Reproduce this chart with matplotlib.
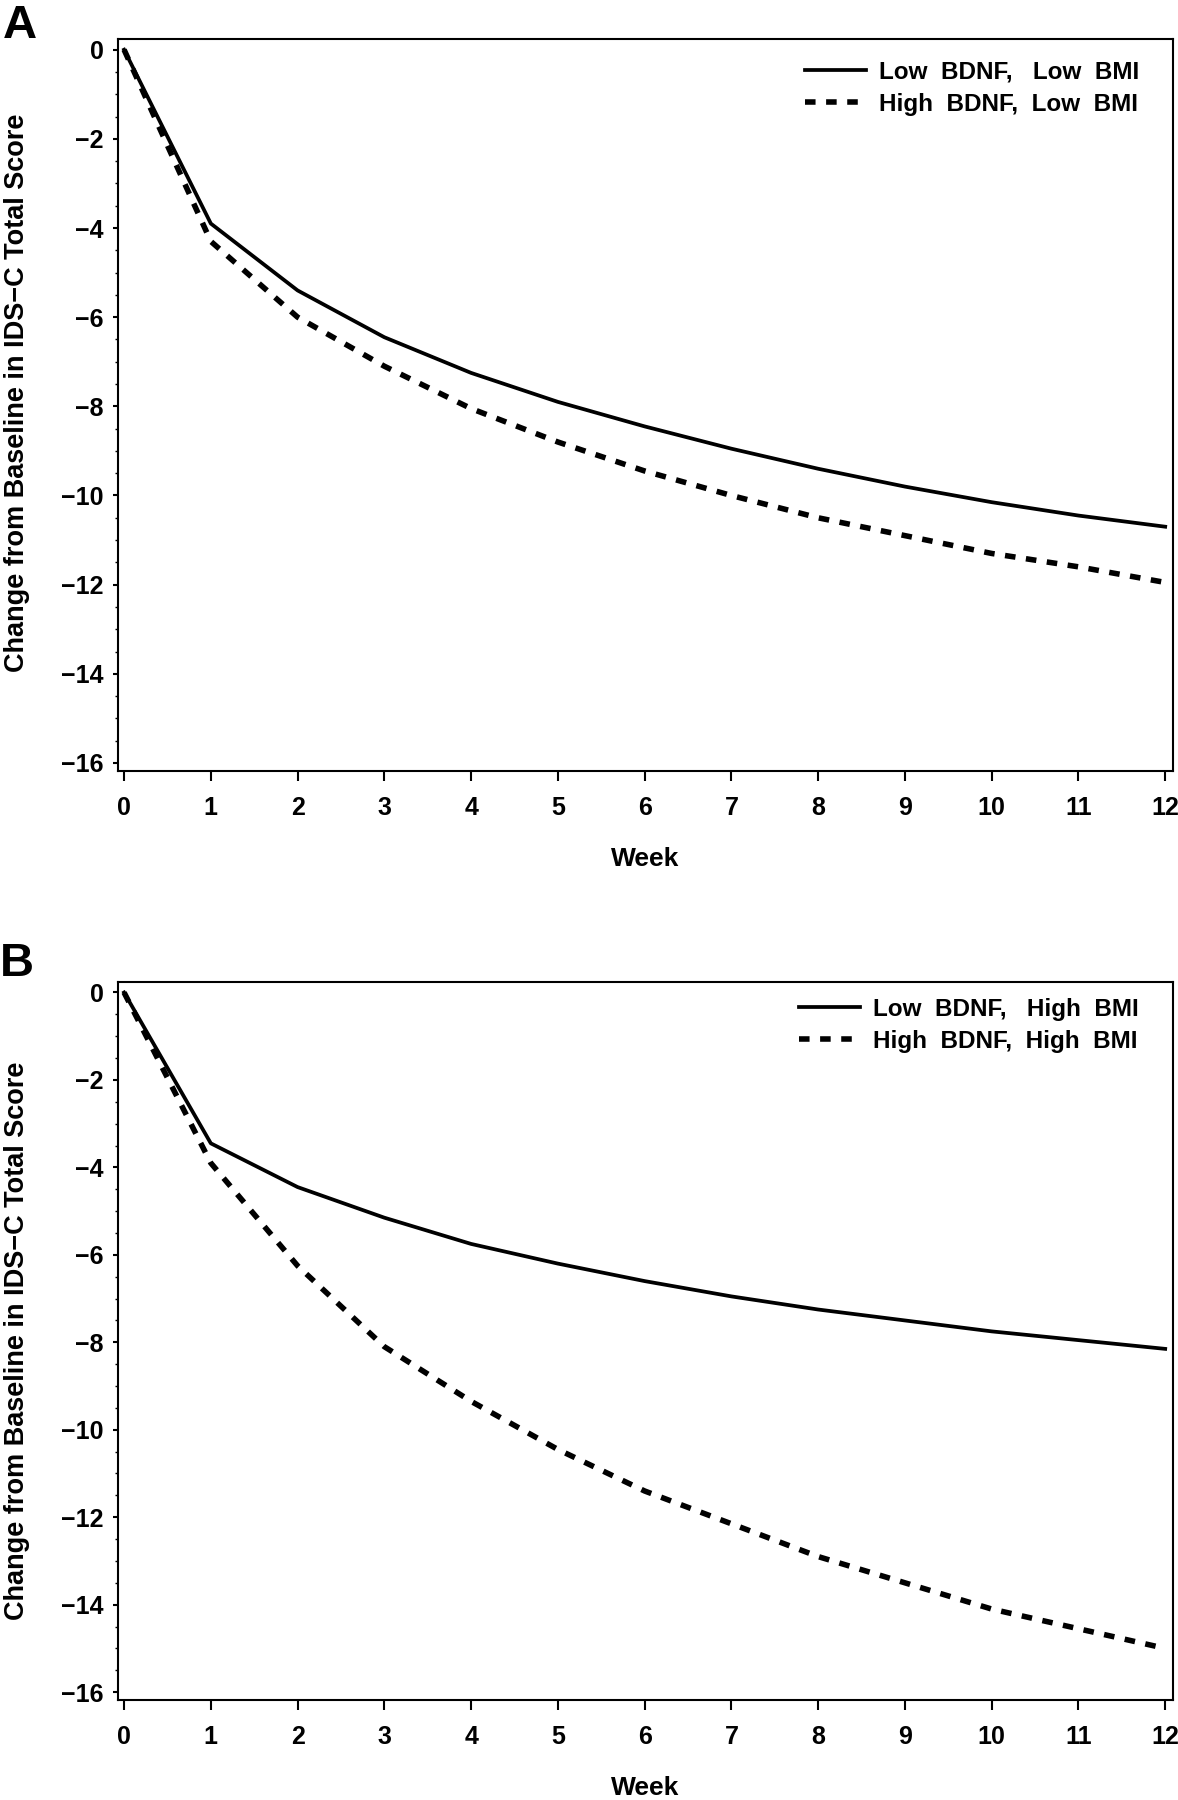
import numpy as np
import matplotlib
matplotlib.use('Agg')
import matplotlib.pyplot as plt
from matplotlib.ticker import MultipleLocator

plt.rcParams['font.family'] = ['Liberation Sans', 'DejaVu Sans']

# weeks of treatment
weeks = [0, 1, 2, 3, 4, 5, 6, 7, 8, 9, 10, 11, 12]

# panel A: low BMI
low_bdnf_low_bmi = [0, -3.9, -5.4, -6.45, -7.25, -7.9, -8.45, -8.95, -9.4, -9.8, -10.15, -10.45, -10.7]
high_bdnf_low_bmi = [0, -4.3, -6.0, -7.1, -8.05, -8.8, -9.45, -10.0, -10.5, -10.9, -11.3, -11.6, -11.95]

# panel B: high BMI
low_bdnf_high_bmi = [0, -3.45, -4.45, -5.15, -5.75, -6.2, -6.6, -6.95, -7.25, -7.5, -7.75, -7.95, -8.15]
high_bdnf_high_bmi = [0, -3.9, -6.25, -8.1, -9.35, -10.45, -11.4, -12.15, -12.9, -13.5, -14.1, -14.55, -15.0]

labels_a = ['Low  BDNF,   Low  BMI', 'High  BDNF,  Low  BMI']
labels_b = ['Low  BDNF,   High  BMI', 'High  BDNF,  High  BMI']
y_ticks = [0, -2, -4, -6, -8, -10, -12, -14, -16]
ylabel = 'Change from Baseline in IDS\u2212C Total Score'

W, H = 1178, 1800
fig = plt.figure(figsize=(W / 100, H / 100), dpi=100)


def px_axes(left, top, right, bottom):
  # build axes from pixel box of the frame
  return fig.add_axes([left / W, 1 - bottom / H, (right - left) / W, (bottom - top) / H])


def panel(ax, solid, dashed, labels, ylabel_y, legend_y):
  ax.plot(weeks, solid, color='black', lw=2.7, label=labels[0])
  ax.plot(weeks, dashed, color='black', lw=4, linestyle=(0, (1.9, 1.9)), label=labels[1])
  ax.set_xlim(-0.07, 12.09)
  ax.set_ylim(-16.18, 0.24)
  ax.set_xticks(weeks)
  ax.set_yticks(y_ticks)
  ax.yaxis.set_minor_locator(MultipleLocator(0.5))
  for s in ax.spines.values():
    s.set_linewidth(1.5)
  ax.tick_params(axis='x', length=7, width=1.5, pad=11, labelsize=18)
  ax.tick_params(axis='y', which='major', length=3.5, width=1.5, pad=7, labelsize=18)
  ax.tick_params(axis='y', which='minor', length=2, width=1)
  for t in ax.get_xticklabels() + ax.get_yticklabels():
    t.set_fontweight('bold')
  ax.set_ylabel(ylabel, fontsize=19.5, fontweight='bold')
  ax.yaxis.set_label_coords(-0.083, ylabel_y)
  ax.set_xlabel('Week', fontsize=19, fontweight='bold')
  ax.legend(loc='upper right', bbox_to_anchor=(0.968, legend_y), frameon=False,
            borderpad=0, borderaxespad=0, handlelength=2.5, handletextpad=0.55,
            labelspacing=0.36, prop={'size': 17.5, 'weight': 'bold'})


ax_a = px_axes(118, 39, 1173, 771)
panel(ax_a, low_bdnf_low_bmi, high_bdnf_low_bmi, labels_a, 0.516, 0.970)
ax_a.xaxis.set_label_coords(0.5, -0.104)

ax_b = px_axes(118, 982, 1173, 1700)
panel(ax_b, low_bdnf_high_bmi, high_bdnf_high_bmi, labels_b, 0.5, 0.978)
ax_b.xaxis.set_label_coords(0.5, -0.106)

fig.text(0.002, 0.998, 'A', fontsize=34, fontweight='bold', va='top', ha='left')
fig.text(0.0, 1 - 942 / H, 'B', fontsize=34, fontweight='bold', va='top', ha='left')

fig.savefig('out.png', dpi=100)
